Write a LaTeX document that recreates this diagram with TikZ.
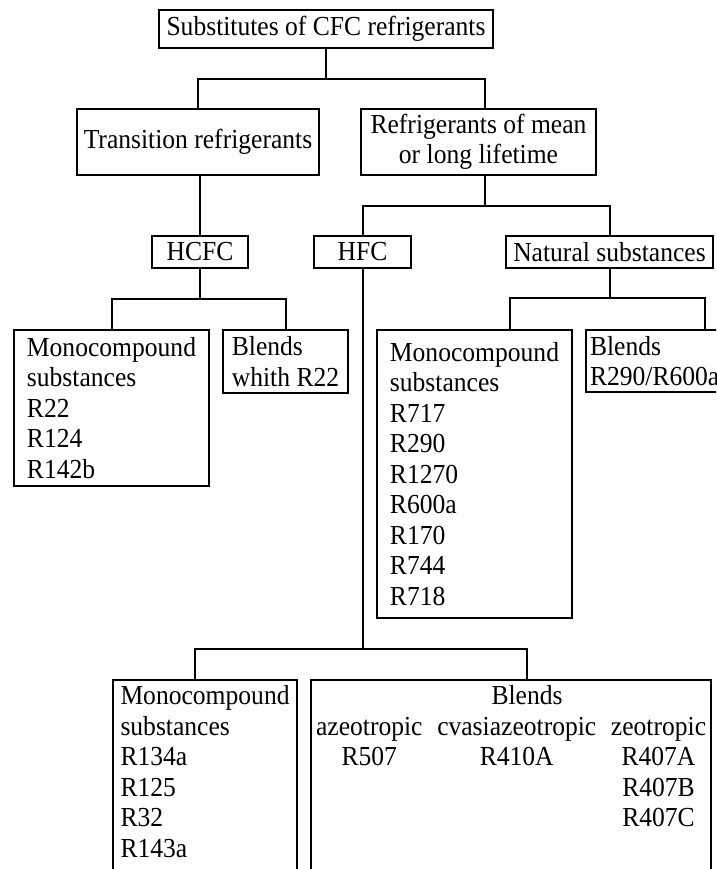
\documentclass[tikz,border=0pt]{standalone}
\usepackage{fontspec}
\setmainfont{Liberation Serif}[FakeStretch=0.93]
\usetikzlibrary{positioning}

\begin{document}
\begin{tikzpicture}[
		x=1pt, y=-1pt,
		line width=2pt,
		font=\fontsize{27.5}{30.5}\selectfont,
		box/.style={draw, inner sep=0pt, outer sep=0pt, align=center},
		list/.style={draw, anchor=north west, inner sep=0pt, outer sep=0pt, align=left},
	]
		\path[use as bounding box, clip] (0,0) rectangle (716,869);

		\node (top) [box, minimum width=334pt, minimum height=38pt] at (326,29) {Substitutes of CFC refrigerants};
		\node (trans) [box, minimum width=242pt, minimum height=66pt] at (198,142) {Transition refrigerants};
		\node (life) [box, right=42pt of trans, minimum width=235pt, minimum height=66pt] {Refrigerants of mean\\or long lifetime};

		\node (hcfc) [box, minimum width=96pt, minimum height=32pt] at (200,252) {HCFC};
		\node (hfc) [box, right=66pt of hcfc, minimum width=97pt, minimum height=32pt] {HFC};
		\node (natural) [box, right=95pt of hfc, minimum width=207pt, minimum height=32pt] {Natural substances};

		\node (monoA) [list, minimum width=195pt, minimum height=156pt] at (14,330) {Monocompound\\substances\\R22\\R124\\R142b};
		\node (blendsA) [list, right=14pt of monoA.north east, anchor=north west, minimum width=125pt, minimum height=63pt] {Blends\\whith R22};
		\node (monoN) [list, minimum width=195pt, minimum height=288pt] at (377,330) {Monocompound\\substances\\R717\\R290\\R1270\\R600a\\R170\\R744\\R718};
		\node (blendsN) [list, right=14pt of monoN.north east, anchor=north west, inner xsep=4pt, minimum height=62pt] {Blends\\R290/R600a};

		\node (monoH) [list, inner xsep=7.5pt, inner ysep=3.6pt, text depth=220pt] at (113,680) {\begin{tabular}[t]{@{}l@{}}Monocompound\\substances\\R134a\\R125\\R32\\R143a\end{tabular}};
		\node (blendsH) [list, right=14pt of monoH.north east, anchor=north west, inner xsep=5pt, inner ysep=3.6pt, text depth=220pt] {\begin{tabular*}{390pt}[t]{@{\extracolsep{\fill}}c@{}c@{}c@{}}
			\multicolumn{3}{c}{\hspace{32pt}Blends}\\
			azeotropic & cvasiazeotropic & zeotropic\\
			R507 & R410A & R407A\\
			 & & R407B\\
			 & & R407C
		\end{tabular*}};

		\coordinate (bus1) at (326,79);
		\coordinate (bus2) at (485,206);
		\coordinate (bus3) at (200,299);
		\coordinate (bus4) at (natural |- 0,298);
		\coordinate (bus5) at (hfc |- 0,649);

		\draw (top) -- (bus1);
		\draw (trans) |- (bus1) -| ([xshift=6.5pt]life.north);
		\draw ([xshift=6.5pt]life.south) -- (bus2);
		\draw (hfc) |- (bus2) -| (natural);
		\draw (hcfc) -- (hcfc |- trans.south);
		\draw (hcfc) -- (bus3);
		\draw (monoA) |- (bus3) -| (blendsA);
		\draw (natural) -- (bus4);
		\draw ([xshift=35.5pt]monoN.north) |- (bus4) -| ([xshift=119pt]blendsN.north west);
		\draw (hfc) -- (bus5);
		\draw ([xshift=-10pt]monoH.north) |- (bus5) -| ([xshift=16pt]blendsH.north);
	\end{tikzpicture}
\end{document}
